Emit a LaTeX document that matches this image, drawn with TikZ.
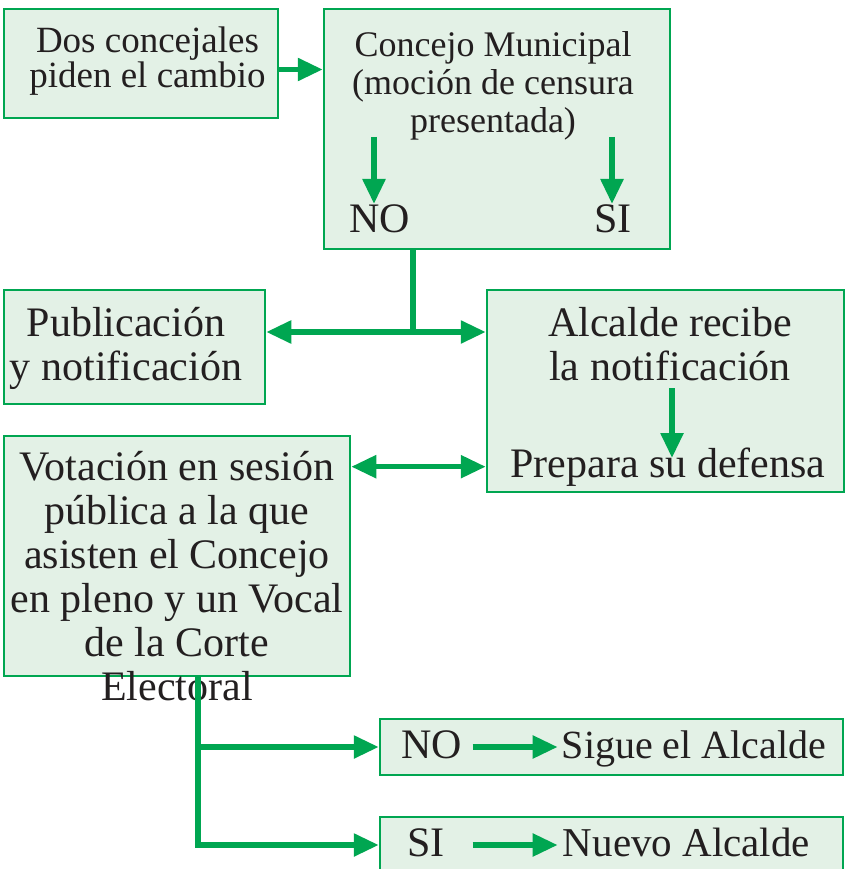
\documentclass[tikz,border=0pt]{standalone}
\usepackage{fontspec}
\setmainfont{Liberation Serif}
\usetikzlibrary{arrows.meta}
\definecolor{verde}{HTML}{00A651}
\definecolor{fondo}{HTML}{E3F1E6}
\definecolor{tinta}{HTML}{231F20}

\begin{document}
\begin{tikzpicture}[x=1pt, y=-1pt,
    caja/.style={draw=verde, fill=fondo, line width=2.5pt, rectangle, inner sep=0pt},
    texto/.style={text=tinta, align=center, inner sep=0pt, font=\fontsize{42}{44}\selectfont},
    fila/.style={texto, text height=28pt, text depth=6pt},
    linea/.style={draw=verde, line width=5.5pt},
    flecha/.style={linea, -{Triangle[length=25pt, width=22pt]}},
    flecha2/.style={linea, {Triangle[length=25pt, width=22pt]}-{Triangle[length=25pt, width=22pt]}}]
  \clip (0,0) rectangle (845,869);

  % cajas
  \node[caja, minimum width=274pt, minimum height=109pt] (b1) at (141,63.5) {};
  \node[caja, minimum width=346pt, minimum height=240pt] (b2) at (497,129) {};
  \node[caja, minimum width=261pt, minimum height=114pt] (b3) at (134.5,347) {};
  \node[caja, minimum width=357pt, minimum height=202pt] (b4) at (665.5,391) {};
  \node[caja, minimum width=346pt, minimum height=240pt] (b5) at (177,556) {};
  \node[caja, minimum width=463pt, minimum height=56pt] (b6) at (611.5,747) {};
  \node[caja, minimum width=463pt, minimum height=56pt] (b7) at (611.5,845) {};

  % textos (anchor base = ultima linea)
  \node[texto, font=\fontsize{37}{35}\selectfont, anchor=base] (t1) at (147.5,88) {Dos concejales\\piden el cambio};
  \node[texto, font=\fontsize{36}{38}\selectfont, anchor=base] (t2) at (493,133) {Concejo Municipal\\(moción de censura\\presentada)};
  \node[texto, anchor=base] (no1) at (380,232) {NO};
  \node[texto, anchor=base] (si1) at (613,232) {SI};
  \node[texto, anchor=base] (t3) at (126,380) {Publicación\\y notificación};
  \node[texto, anchor=base] (t4) at (670,380) {Alcalde recibe\\la notificación};
  \node[texto, anchor=base] (t4b) at (668,477) {Prepara su defensa};
  \node[texto, anchor=base] (t5) at (177,700) {Votación en sesión\\pública a la que\\asisten el Concejo\\en pleno y un Vocal\\de la Corte\\Electoral};
  \node[fila, anchor=base] (no2) at (432,758) {NO};
  \node[fila, font=\fontsize{40}{44}\selectfont, anchor=base] (sigue) at (694,758) {Sigue el Alcalde};
  \node[fila, anchor=base] (si2) at (426,856) {SI};
  \node[fila, font=\fontsize{41}{44}\selectfont, anchor=base] (nuevo) at (686.5,856) {Nuevo Alcalde};

  % flechas
  \coordinate (ano) at (374,137);
  \coordinate (asi) at (612,137);
  \coordinate (aal) at (672,388);
  \coordinate (cruce) at (413,332);
  \coordinate (rama) at (198,0);

  \draw[flecha] ([yshift=-6pt]b1.east) -- ([yshift=-6pt]b1.east -| b2.west);
  \draw[flecha] (ano) -- (ano |- no1.north);
  \draw[flecha] (asi) -- (asi |- si1.north);
  \draw[linea] (b2.south -| cruce) -- (cruce);
  \draw[flecha2] (b3.east |- cruce) -- (b4.west |- cruce);
  \draw[flecha] (aal) -- ++(0,70);
  \draw[flecha2] (b5.east |- t4b.center) -- (b4.west |- t4b.center);
  \draw[flecha] (b5.south -| rama) |- (b6.west);
  \draw[flecha] (b5.south -| rama) |- (b7.west);
  \draw[flecha, shorten <=10pt, shorten >=4pt] (no2.east) -- (sigue.west);
  \draw[flecha] ([xshift=10pt]no2.east |- si2.east) -- ([xshift=-4pt]sigue.west |- si2.east);
\end{tikzpicture}
\end{document}
